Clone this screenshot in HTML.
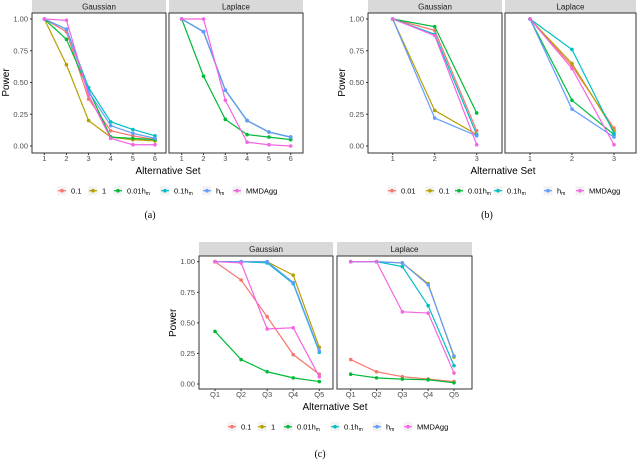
<!DOCTYPE html>
<html><head><meta charset="utf-8"><style>
body{margin:0;background:#fff}
svg{display:block;font-family:"Liberation Sans",sans-serif}
</style></head><body>
<svg id="c" width="640" height="461" viewBox="0 0 640 461"></svg>
<script>
const colors=["#F8766D","#B79F00","#00BA38","#00BFC4","#619CFF","#F564E3"];
const yTicks=[0,0.25,0.5,0.75,1];
const yTickLabels=["0.00","0.25","0.50","0.75","1.00"];
const facets=["Gaussian","Laplace"];
// panel a
const aCats=["1","2","3","4","5","6"];
const aLegend=["0.1","1","0.01h","0.1h","h","MMDAgg"];
const aGauss=[[1,0.90,0.37,0.12,0.08,0.05],[1,0.64,0.20,0.07,0.05,0.04],[1,0.84,0.44,0.07,0.06,0.05],[1,0.92,0.46,0.19,0.13,0.08],[1,0.92,0.43,0.16,0.10,0.06],[1,0.99,0.40,0.06,0.01,0.01]];
const aLap=[[1,0.90,0.44,0.20,0.11,0.07],[1,0.90,0.44,0.20,0.11,0.07],[1,0.55,0.21,0.09,0.07,0.05],[1,0.90,0.44,0.20,0.11,0.07],[1,0.90,0.44,0.20,0.11,0.07],[1,1.0,0.36,0.03,0.01,0.00]];
// panel b
const bCats=["1","2","3"];
const bLegend=["0.01","0.1","0.01h","0.1h","h","MMDAgg"];
const bGauss=[[1,0.91,0.12],[1,0.28,0.09],[1,0.94,0.26],[1,0.88,0.09],[1,0.22,0.08],[1,0.87,0.01]];
const bLap=[[1,0.63,0.14],[1,0.65,0.12],[1,0.36,0.09],[1,0.76,0.10],[1,0.29,0.07],[1,0.61,0.01]];
// panel c
const cCats=["Q1","Q2","Q3","Q4","Q5"];
const cLegend=["0.1","1","0.01h","0.1h","h","MMDAgg"];
const cGauss=[[1,0.85,0.55,0.24,0.08],[1,1,1,0.89,0.30],[0.43,0.20,0.10,0.05,0.02],[1,1,0.99,0.82,0.26],[1,1,1,0.83,0.27],[1,0.99,0.45,0.46,0.06]];
const cLap=[[0.20,0.10,0.06,0.04,0.02],[1,1,0.99,0.82,0.22],[0.08,0.05,0.04,0.035,0.01],[1,1,0.96,0.64,0.15],[1,1,0.99,0.81,0.23],[1,1,0.59,0.58,0.09]];

const NS="http://www.w3.org/2000/svg";
const svg=document.getElementById("c");
function el(tag,attrs,parent,text){const e=document.createElementNS(NS,tag);for(const k in attrs)e.setAttribute(k,attrs[k]);if(text!==undefined)e.textContent=text;(parent||svg).appendChild(e);return e;}

function figure(id,cfg,cats,legend,dataSets){
  const g=el("g",{});
  
  
  cfg.facets.forEach((f,fi)=>{
    const data=dataSets[fi];
    const x0=f.x0,x1=f.x1;
    const fg=el("g",{},g);
    
    
    const strip=el("rect",{x:x0,y:cfg.stripTop,width:x1-x0,height:cfg.top-cfg.stripTop,fill:"#d9d9d9"},fg);
    
    
    const st=el("text",{x:(x0+x1)/2,y:(cfg.stripTop+cfg.top)/2+3,"text-anchor":"middle","font-size":"8","fill":"#1a1a1a"},fg,facets[fi]);
    
    
    const xs=i=>f.c0+(f.c1-f.c0)*i/(cats.length-1);
    const ys=v=>cfg.y0+(cfg.y1-cfg.y0)*v;
    const box=el("rect",{x:x0,y:cfg.top,width:x1-x0,height:cfg.bottom-cfg.top,fill:"#fff",stroke:"#333","stroke-width":"1"},fg);
    
    
    cats.forEach((c,i)=>{
      el("line",{x1:xs(i),x2:xs(i),y1:cfg.bottom,y2:cfg.bottom+2,stroke:"#333"},fg);
      const t=el("text",{x:xs(i),y:cfg.bottom+8,"text-anchor":"middle","font-size":"7.5",fill:"#4d4d4d"},fg,c);
      
      
    });
    if(fi===0){
      yTicks.forEach((v,i)=>{
        el("line",{x1:x0-2,x2:x0,y1:ys(v),y2:ys(v),stroke:"#333"},fg);
        const t=el("text",{x:x0-4,y:ys(v)+2.5,"text-anchor":"end","font-size":"7.5",fill:"#4d4d4d"},fg,yTickLabels[i]);
        
        
      });
    }
    data.forEach((s,si)=>{
      const pts=s.map((v,i)=>xs(i)+","+ys(v)).join(" ");
      const pl=el("polyline",{points:pts,fill:"none",stroke:colors[si],"stroke-width":"1.2"},fg);
      
      
      s.forEach((v,i)=>{
        const p=el("circle",{cx:xs(i),cy:ys(v),r:1.8,fill:colors[si]},fg);
        
        
      });
    });
  });
  const yt=el("text",{x:cfg.yTitleX,y:(cfg.y0+cfg.y1)/2,"text-anchor":"middle","font-size":"10",fill:"#000",transform:`rotate(-90 ${cfg.yTitleX} ${(cfg.y0+cfg.y1)/2})`},g,"Power");
  
  
  const xt=el("text",{x:cfg.xTitleX,y:cfg.xTitleY,"text-anchor":"middle","font-size":"10",fill:"#000"},g,"Alternative Set");
  
  
  legend.forEach((lab,i)=>{
    const kx=cfg.legendKeys[i],ly=cfg.legendY;
    const lg=el("g",{},g);
    
    
    el("rect",{x:kx-4.5,y:ly-4.5,width:9,height:9,fill:"#f2f2f2"},lg);
    el("line",{x1:kx-4,x2:kx+4,y1:ly,y2:ly,stroke:colors[i],"stroke-width":"1.2"},lg);
    el("circle",{cx:kx,cy:ly,r:1.8,fill:colors[i]},lg);
    const t=el("text",{x:kx+9,y:ly+3,"font-size":"7.5",fill:"#000"},lg,lab);
    if(lab.endsWith("h")&&lab!=="MMDAgg"){el("tspan",{"font-size":"5",dy:"1.5"},t,"m");}
  });
  const cap=el("text",{x:cfg.capX,y:cfg.capY,"text-anchor":"middle","font-size":"10","font-family":"Liberation Serif, serif",fill:"#000"},g,cfg.cap);
  
  
}

figure("panel-a",{stripTop:0,top:13,bottom:153,y0:146,y1:19,
  facets:[{x0:32,x1:166,c0:44.3,c1:155},{x0:169,x1:303,c0:181.7,c1:290.7}],
  yTitleX:9,xTitleX:168,xTitleY:174,legendY:190.7,legendKeys:[62,93,118,165,207,237],capX:150,capY:218,cap:"(a)"},aCats,aLegend,[aGauss,aLap]);
figure("panel-b",{stripTop:0,top:13,bottom:153,y0:146,y1:19,
  facets:[{x0:368,x1:502,c0:392.7,c1:476.7},{x0:505,x1:636,c0:530,c1:614}],
  yTitleX:345,xTitleX:503,xTitleY:174,legendY:190.7,legendKeys:[392,430,459,498,548,580],capX:487,capY:218,cap:"(b)"},bCats,bLegend,[bGauss,bLap]);
figure("panel-c",{stripTop:242,top:256,bottom:389,y0:384,y1:261.7,
  facets:[{x0:199,x1:333,c0:215,c1:319.3},{x0:337,x1:472,c0:350.7,c1:454}],
  yTitleX:176,xTitleX:335,xTitleY:410,legendY:426.7,legendKeys:[232,262,288,335,377,408],capX:320,capY:457,cap:"(c)"},cCats,cLegend,[cGauss,cLap]);
</script>
</body></html>
